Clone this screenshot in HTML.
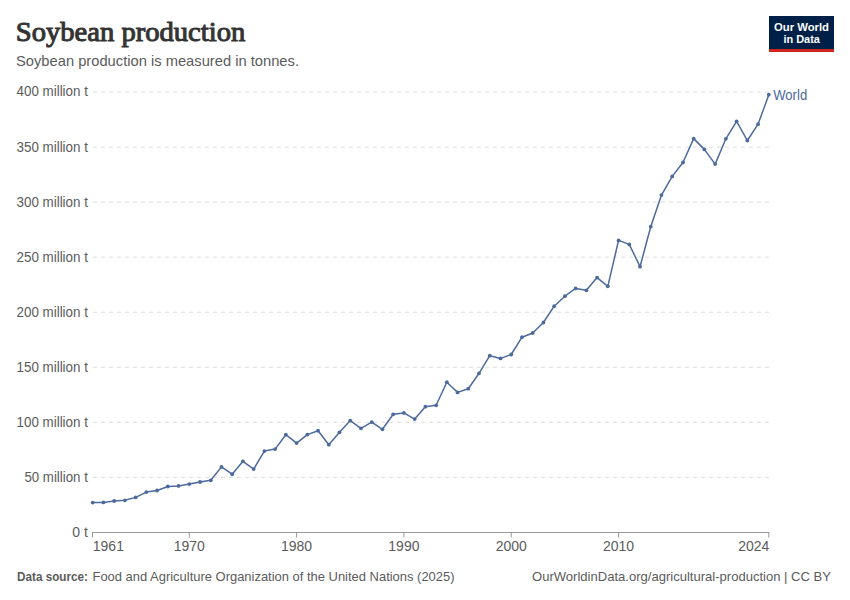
<!DOCTYPE html>
<html><head><meta charset="utf-8"><style>
html,body{margin:0;padding:0;background:#fff;width:850px;height:600px;overflow:hidden}
svg{display:block}
text{font-family:"Liberation Sans",sans-serif}
.serif{font-family:"Liberation Serif",serif}
</style></head><body>
<svg width="850" height="600" viewBox="0 0 850 600">
<rect width="850" height="600" fill="#fff"/>
<text class="serif" x="15.8" y="40.9" font-weight="normal" font-size="27.8" fill="#333" stroke="#333" stroke-width="1.0" textLength="229.5" lengthAdjust="spacingAndGlyphs">Soybean production</text>
<text x="16" y="66.2" font-size="15" fill="#5b5b5b" textLength="283" lengthAdjust="spacingAndGlyphs">Soybean production is measured in tonnes.</text>
<g>
<rect x="769" y="16" width="65" height="36" fill="#002147"/>
<rect x="769" y="49" width="65" height="3" fill="#ce261e"/>
<text x="801.5" y="30.5" text-anchor="middle" font-size="11.5" font-weight="bold" fill="#fff" textLength="55" lengthAdjust="spacingAndGlyphs">Our World</text>
<text x="801.7" y="42.8" text-anchor="middle" font-size="11.5" font-weight="bold" fill="#fff" textLength="36.5" lengthAdjust="spacingAndGlyphs">in Data</text>
</g>
<g stroke="#ddd" stroke-width="1" stroke-dasharray="4,4"><line x1="93" y1="477.36" x2="769" y2="477.36"/><line x1="93" y1="422.32" x2="769" y2="422.32"/><line x1="93" y1="367.28" x2="769" y2="367.28"/><line x1="93" y1="312.24" x2="769" y2="312.24"/><line x1="93" y1="257.2" x2="769" y2="257.2"/><line x1="93" y1="202.16" x2="769" y2="202.16"/><line x1="93" y1="147.12" x2="769" y2="147.12"/><line x1="93" y1="92.08" x2="769" y2="92.08"/></g>
<g font-size="14" fill="#5b5b5b"><text x="87.9" y="481.76" text-anchor="end" textLength="63.5" lengthAdjust="spacingAndGlyphs">50 million t</text><text x="87.9" y="426.72" text-anchor="end" textLength="71.4" lengthAdjust="spacingAndGlyphs">100 million t</text><text x="87.9" y="371.68" text-anchor="end" textLength="71.4" lengthAdjust="spacingAndGlyphs">150 million t</text><text x="87.9" y="316.64" text-anchor="end" textLength="71.4" lengthAdjust="spacingAndGlyphs">200 million t</text><text x="87.9" y="261.60" text-anchor="end" textLength="71.4" lengthAdjust="spacingAndGlyphs">250 million t</text><text x="87.9" y="206.56" text-anchor="end" textLength="71.4" lengthAdjust="spacingAndGlyphs">300 million t</text><text x="87.9" y="151.52" text-anchor="end" textLength="71.4" lengthAdjust="spacingAndGlyphs">350 million t</text><text x="87.9" y="96.48" text-anchor="end" textLength="71.4" lengthAdjust="spacingAndGlyphs">400 million t</text><text x="87.9" y="537.3" text-anchor="end">0 t</text></g>
<line x1="92.5" y1="532.5" x2="769" y2="532.5" stroke="#999" stroke-width="1"/>
<g stroke="#999" stroke-width="1"><line x1="92.5" y1="532" x2="92.5" y2="537.5"/><line x1="189.29" y1="532" x2="189.29" y2="537.5"/><line x1="296.6" y1="532" x2="296.6" y2="537.5"/><line x1="403.92" y1="532" x2="403.92" y2="537.5"/><line x1="511.24" y1="532" x2="511.24" y2="537.5"/><line x1="618.56" y1="532" x2="618.56" y2="537.5"/><line x1="768.8" y1="532" x2="768.8" y2="537.5"/></g>
<g font-size="14" fill="#5b5b5b"><text x="92.8" y="551.2">1961</text><text x="189.29" y="551.2" text-anchor="middle">1970</text><text x="296.6" y="551.2" text-anchor="middle">1980</text><text x="403.92" y="551.2" text-anchor="middle">1990</text><text x="511.24" y="551.2" text-anchor="middle">2000</text><text x="618.56" y="551.2" text-anchor="middle">2010</text><text x="769.3" y="551.2" text-anchor="end">2024</text></g>
<path d="M92.7,502.6 L103.43,502.4 L114.16,501.0 L124.9,500.3 L135.63,497.4 L146.36,492.1 L157.09,490.5 L167.82,486.5 L178.55,485.9 L189.29,484.1 L200.02,482 L210.75,480.3 L221.48,466.9 L232.21,474.2 L242.94,461.3 L253.68,469.1 L264.41,451.1 L275.14,449.1 L285.87,434.7 L296.6,443.1 L307.33,434.6 L318.07,430.7 L328.8,444.7 L339.53,432.3 L350.26,420.6 L360.99,428.3 L371.73,422.1 L382.46,429.3 L393.19,414.3 L403.92,412.9 L414.65,419.1 L425.38,406.7 L436.12,405.3 L446.85,382.2 L457.58,392.4 L468.31,388.7 L479.04,373.3 L489.77,355.7 L500.51,358.4 L511.24,354.5 L521.97,337.2 L532.7,333 L543.43,322.5 L554.17,306.2 L564.9,296.2 L575.63,288.4 L586.36,290.3 L597.09,277.6 L607.82,286.3 L618.56,240.4 L629.29,244.4 L640.02,266.7 L650.75,226.7 L661.48,195.1 L672.21,176.4 L682.95,162.5 L693.68,138.6 L704.41,149.4 L715.14,164.1 L725.87,138.8 L736.6,121.3 L747.34,140.5 L758.07,124.2 L768.8,94.7" fill="none" stroke="#4c6a9c" stroke-width="1.5" stroke-linejoin="round"/>
<g fill="#4c6a9c"><circle cx="92.7" cy="502.6" r="1.9"/><circle cx="103.43" cy="502.4" r="1.9"/><circle cx="114.16" cy="501.0" r="1.9"/><circle cx="124.9" cy="500.3" r="1.9"/><circle cx="135.63" cy="497.4" r="1.9"/><circle cx="146.36" cy="492.1" r="1.9"/><circle cx="157.09" cy="490.5" r="1.9"/><circle cx="167.82" cy="486.5" r="1.9"/><circle cx="178.55" cy="485.9" r="1.9"/><circle cx="189.29" cy="484.1" r="1.9"/><circle cx="200.02" cy="482" r="1.9"/><circle cx="210.75" cy="480.3" r="1.9"/><circle cx="221.48" cy="466.9" r="1.9"/><circle cx="232.21" cy="474.2" r="1.9"/><circle cx="242.94" cy="461.3" r="1.9"/><circle cx="253.68" cy="469.1" r="1.9"/><circle cx="264.41" cy="451.1" r="1.9"/><circle cx="275.14" cy="449.1" r="1.9"/><circle cx="285.87" cy="434.7" r="1.9"/><circle cx="296.6" cy="443.1" r="1.9"/><circle cx="307.33" cy="434.6" r="1.9"/><circle cx="318.07" cy="430.7" r="1.9"/><circle cx="328.8" cy="444.7" r="1.9"/><circle cx="339.53" cy="432.3" r="1.9"/><circle cx="350.26" cy="420.6" r="1.9"/><circle cx="360.99" cy="428.3" r="1.9"/><circle cx="371.73" cy="422.1" r="1.9"/><circle cx="382.46" cy="429.3" r="1.9"/><circle cx="393.19" cy="414.3" r="1.9"/><circle cx="403.92" cy="412.9" r="1.9"/><circle cx="414.65" cy="419.1" r="1.9"/><circle cx="425.38" cy="406.7" r="1.9"/><circle cx="436.12" cy="405.3" r="1.9"/><circle cx="446.85" cy="382.2" r="1.9"/><circle cx="457.58" cy="392.4" r="1.9"/><circle cx="468.31" cy="388.7" r="1.9"/><circle cx="479.04" cy="373.3" r="1.9"/><circle cx="489.77" cy="355.7" r="1.9"/><circle cx="500.51" cy="358.4" r="1.9"/><circle cx="511.24" cy="354.5" r="1.9"/><circle cx="521.97" cy="337.2" r="1.9"/><circle cx="532.7" cy="333" r="1.9"/><circle cx="543.43" cy="322.5" r="1.9"/><circle cx="554.17" cy="306.2" r="1.9"/><circle cx="564.9" cy="296.2" r="1.9"/><circle cx="575.63" cy="288.4" r="1.9"/><circle cx="586.36" cy="290.3" r="1.9"/><circle cx="597.09" cy="277.6" r="1.9"/><circle cx="607.82" cy="286.3" r="1.9"/><circle cx="618.56" cy="240.4" r="1.9"/><circle cx="629.29" cy="244.4" r="1.9"/><circle cx="640.02" cy="266.7" r="1.9"/><circle cx="650.75" cy="226.7" r="1.9"/><circle cx="661.48" cy="195.1" r="1.9"/><circle cx="672.21" cy="176.4" r="1.9"/><circle cx="682.95" cy="162.5" r="1.9"/><circle cx="693.68" cy="138.6" r="1.9"/><circle cx="704.41" cy="149.4" r="1.9"/><circle cx="715.14" cy="164.1" r="1.9"/><circle cx="725.87" cy="138.8" r="1.9"/><circle cx="736.6" cy="121.3" r="1.9"/><circle cx="747.34" cy="140.5" r="1.9"/><circle cx="758.07" cy="124.2" r="1.9"/><circle cx="768.8" cy="94.7" r="1.9"/></g>
<text x="773.2" y="99.8" font-size="14" fill="#4c6a9c" textLength="34" lengthAdjust="spacingAndGlyphs">World</text>
<text x="17" y="581.3" font-size="13" font-weight="bold" fill="#5b5b5b" textLength="71" lengthAdjust="spacingAndGlyphs">Data source:</text>
<text x="92.5" y="581.3" font-size="13" fill="#5b5b5b" textLength="362" lengthAdjust="spacingAndGlyphs">Food and Agriculture Organization of the United Nations (2025)</text>
<text x="831" y="581.3" text-anchor="end" font-size="13" fill="#5b5b5b" textLength="299" lengthAdjust="spacingAndGlyphs">OurWorldinData.org/agricultural-production | CC BY</text>
</svg>
</body></html>
